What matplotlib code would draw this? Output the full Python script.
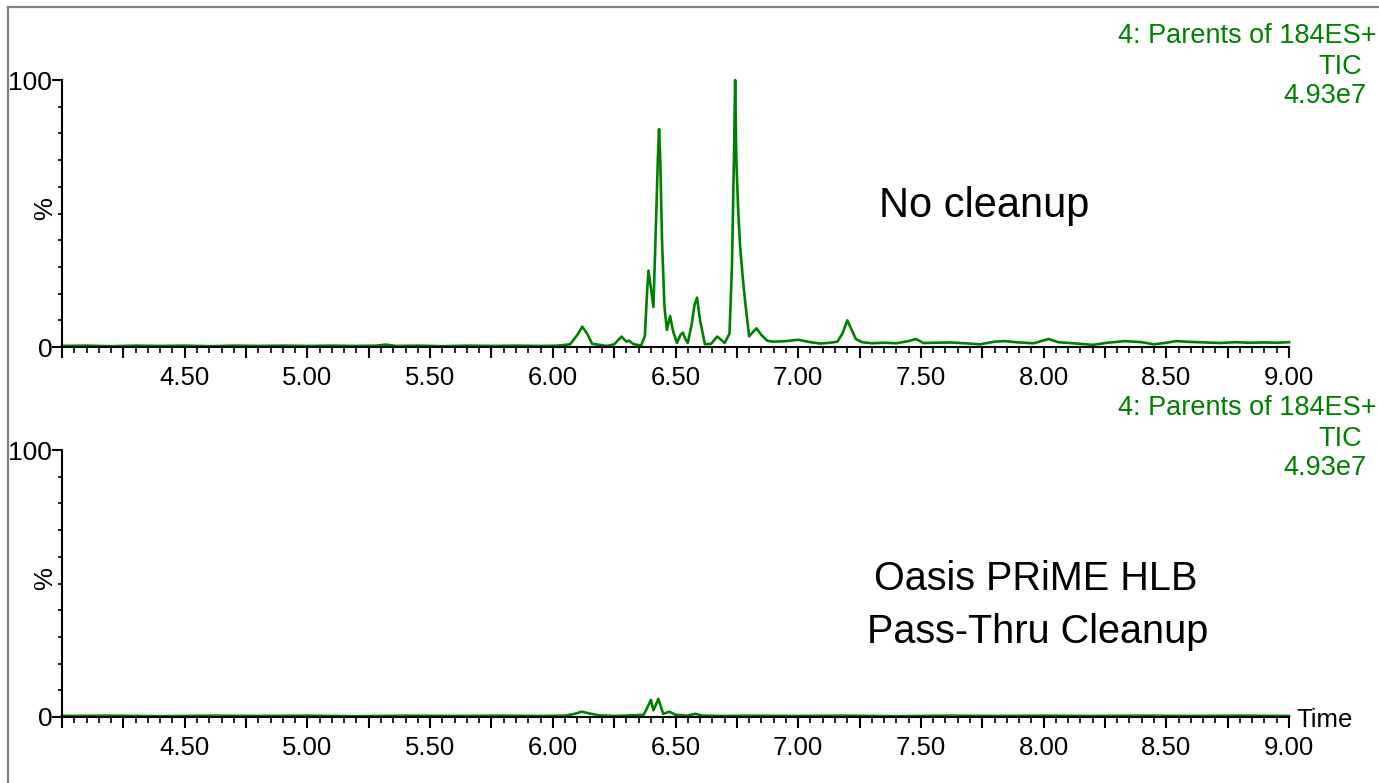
import matplotlib
matplotlib.use('Agg')

from matplotlib import pyplot
from matplotlib.ticker import MultipleLocator, FixedLocator, FuncFormatter
from matplotlib.lines import Line2D

pyplot.rcParams['font.family'] = ['Liberation Sans', 'DejaVu Sans']

GREEN = '#008000'

# chromatogram, no cleanup (retention time in min, % of 4.93e7)
top_time = [4.00, 4.10, 4.20, 4.30, 4.40, 4.50, 4.60, 4.70, 4.80, 4.90,
            5.00, 5.10, 5.20, 5.28, 5.32, 5.36, 5.45, 5.55, 5.65, 5.75,
            5.85, 5.95, 6.02, 6.07, 6.10, 6.12, 6.14, 6.16, 6.19, 6.22,
            6.25, 6.28, 6.30, 6.31, 6.33, 6.36, 6.375, 6.385, 6.39, 6.40,
            6.41, 6.42, 6.428, 6.433, 6.438, 6.445, 6.455, 6.465, 6.478, 6.49,
            6.506, 6.52, 6.53, 6.54, 6.55, 6.565, 6.578, 6.588, 6.60, 6.62,
            6.645, 6.67, 6.685, 6.70, 6.72, 6.73, 6.738, 6.743, 6.748, 6.755,
            6.763, 6.775, 6.785, 6.80, 6.815, 6.83, 6.85, 6.875, 6.90, 6.95,
            7.00, 7.05, 7.09, 7.13, 7.16, 7.18, 7.20, 7.215, 7.235, 7.26,
            7.30, 7.35, 7.40, 7.45, 7.48, 7.51, 7.56, 7.62, 7.68, 7.74,
            7.80, 7.84, 7.90, 7.96, 8.02, 8.06, 8.12, 8.20, 8.26, 8.33,
            8.40, 8.45, 8.50, 8.54, 8.60, 8.66, 8.72, 8.78, 8.84, 8.90,
            8.95, 9.00]
top_pct = [0.4, 0.5, 0.3, 0.5, 0.4, 0.5, 0.3, 0.5, 0.4, 0.5,
           0.4, 0.5, 0.4, 0.5, 0.9, 0.4, 0.5, 0.3, 0.5, 0.4,
           0.5, 0.4, 0.5, 1.0, 4.5, 7.6, 5.0, 1.2, 0.8, 0.4,
           1.0, 3.9, 2.0, 2.4, 1.0, 0.6, 4.0, 22.0, 28.6, 22.0,
           15.0, 45.0, 70.0, 81.6, 70.0, 40.0, 15.0, 6.4, 11.6, 6.0,
           1.5, 4.5, 5.4, 3.0, 1.5, 8.0, 16.0, 18.5, 10.0, 1.0,
           1.2, 3.9, 2.8, 1.5, 5.0, 30.0, 70.0, 100.0, 70.0, 52.0,
           38.0, 25.0, 16.0, 4.0, 5.5, 7.0, 4.5, 2.3, 2.0, 2.2,
           2.7, 1.8, 1.3, 1.6, 2.0, 5.0, 10.0, 7.0, 3.0, 1.8,
           1.4, 1.6, 1.4, 2.2, 3.0, 1.5, 1.6, 1.7, 1.4, 1.0,
           2.0, 2.2, 1.7, 1.4, 3.0, 1.8, 1.4, 0.8, 1.6, 2.2,
           1.8, 1.0, 1.6, 2.2, 1.9, 1.7, 1.5, 1.8, 1.6, 1.7,
           1.6, 1.8]

# chromatogram after Oasis PRiME HLB pass-thru cleanup
bot_time = [4.00, 4.20, 4.40, 4.60, 4.80, 5.00, 5.20, 5.40, 5.60, 5.80,
            5.95, 6.05, 6.09, 6.118, 6.15, 6.19, 6.25, 6.32, 6.37, 6.385,
            6.40, 6.41, 6.42, 6.43, 6.44, 6.45, 6.475, 6.50, 6.55, 6.58,
            6.61, 6.70, 6.80, 7.00, 7.20, 7.40, 7.60, 7.80, 8.00, 8.20,
            8.40, 8.60, 8.80, 9.00]
bot_pct = [0.4, 0.5, 0.3, 0.5, 0.4, 0.5, 0.3, 0.5, 0.4, 0.5,
           0.4, 0.5, 1.2, 2.0, 1.3, 0.6, 0.4, 0.6, 0.8, 3.5,
           6.4, 2.5, 4.5, 6.8, 4.0, 1.2, 2.0, 0.8, 0.5, 1.2,
           0.5, 0.4, 0.5, 0.4, 0.5, 0.3, 0.5, 0.4, 0.5, 0.4,
           0.5, 0.4, 0.5, 0.4]

header_lines = ['4: Parents of 184ES+', 'TIC', '4.93e7']
top_label = 'No cleanup'
bot_label = ['Oasis PRiME HLB', 'Pass-Thru Cleanup']

W, H = 1379, 783
fig = pyplot.figure(figsize=(W / 100, H / 100), dpi=100)


def fx(px):
    return px / W


def fy(py):
    return 1 - py / H


def x_fmt(v, pos):
    # labels only every 0.5 min, first one at 4.50
    if v < 4.4 or abs(v * 2 - round(v * 2)) > 1e-6:
        return ''
    return '%.2f' % v


def setup_axis(ax):
    ax.set_xlim(4.0, 9.0)
    ax.set_ylim(0, 100)
    for s in ('top', 'right'):
        ax.spines[s].set_visible(False)
    for s in ('left', 'bottom'):
        ax.spines[s].set_linewidth(1.5)
    ax.xaxis.set_major_locator(MultipleLocator(0.25))
    ax.xaxis.set_minor_locator(MultipleLocator(0.05))
    ax.xaxis.set_major_formatter(FuncFormatter(x_fmt))
    ax.yaxis.set_major_locator(FixedLocator([0, 100]))
    ax.yaxis.set_minor_locator(MultipleLocator(10))
    ax.tick_params(axis='x', which='major', length=8, width=1.5, labelsize=18.5, pad=6)
    ax.tick_params(axis='x', which='minor', length=4, width=1.2)
    ax.tick_params(axis='y', which='major', length=7, width=1.5, labelsize=19, pad=0)
    ax.tick_params(axis='y', which='minor', length=3, width=1.2)
    ax.text(-0.014, 0.52, '%', transform=ax.transAxes, rotation=90,
            ha='center', va='center', fontsize=18.5)


ax1 = fig.add_axes([fx(62), fy(347), fx(1289 - 62), (347 - 80) / H])
ax2 = fig.add_axes([fx(62), fy(717), fx(1289 - 62), (717 - 450) / H])

ax1.plot(top_time, top_pct, '-', color=GREEN, linewidth=1.9, clip_on=False)
ax2.plot(bot_time, bot_pct, '-', color=GREEN, linewidth=1.9, clip_on=False)
setup_axis(ax1)
setup_axis(ax2)

ax2.text(1.006, -0.01, 'Time', transform=ax2.transAxes, ha='left', va='center', fontsize=18.5)

# header text (instrument trace info)
for y0 in (36, 408):
    fig.text(fx(1377), fy(y0), header_lines[0], ha='right', va='center', color=GREEN, fontsize=19.5)
    fig.text(fx(1362), fy(y0 + 31), header_lines[1], ha='right', va='center', color=GREEN, fontsize=19.5)
    fig.text(fx(1367), fy(y0 + 60), header_lines[2], ha='right', va='center', color=GREEN, fontsize=19.5)

fig.text(fx(984), fy(206), top_label, ha='center', va='center', fontsize=30)
fig.text(fx(1036), fy(579), bot_label[0], ha='center', va='center', fontsize=28.5)
fig.text(fx(1038), fy(632), bot_label[1], ha='center', va='center', fontsize=28.5)

# gray frame around the picture
fig.add_artist(Line2D([fx(8), 1.0], [fy(7), fy(7)], color='#808080', linewidth=1.6))
fig.add_artist(Line2D([fx(8), fx(8)], [0.0, fy(7)], color='#808080', linewidth=1.6))

pyplot.savefig('out.png', dpi=100)
pyplot.close()
